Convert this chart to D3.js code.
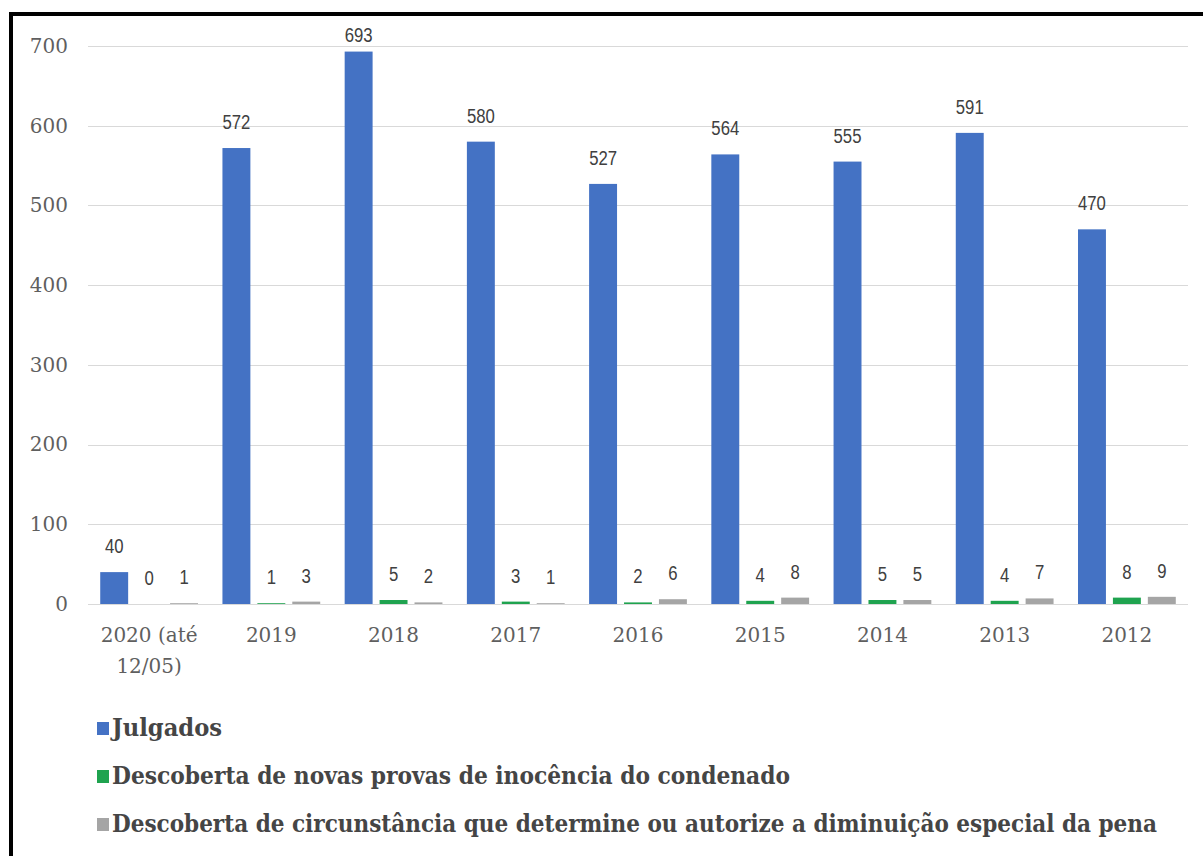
<!DOCTYPE html>
<html>
<head>
<meta charset="utf-8">
<script src="https://cdn.jsdelivr.net/npm/d3@7"></script>
<style>
  html, body { margin: 0; padding: 0; background: #fff; }
  svg { display: block; }
</style>
</head>
<body>
<svg id="chart" width="1203" height="856"></svg>
<script>
// Revisões criminais por ano e fundamento
const categories = ["2020 (até 12/05)", "2019", "2018", "2017", "2016", "2015", "2014", "2013", "2012"];
const categoryLines = [["2020 (até", "12/05)"], ["2019"], ["2018"], ["2017"], ["2016"], ["2015"], ["2014"], ["2013"], ["2012"]];
const seriesNames = [
  "Julgados",
  "Descoberta de novas provas de inocência do condenado",
  "Descoberta de circunstância que determine ou autorize a diminuição especial da pena"
];
const julgados = [40, 572, 693, 580, 527, 564, 555, 591, 470];
const novasProvas = [0, 1, 5, 3, 2, 4, 5, 4, 8];
const circunstancia = [1, 3, 2, 1, 6, 8, 5, 7, 9];
const yTicks = [0, 100, 200, 300, 400, 500, 600, 700];
const colors = ["#4472C4", "#1FA34F", "#A5A5A5"];

const seriesValues = [julgados, novasProvas, circunstancia];

const svg = d3.select("#chart");

// frame (top and left edges)
svg.append("line").attr("x1", 9).attr("x2", 1203).attr("y1", 14).attr("y2", 14)
  .attr("stroke", "#000").attr("stroke-width", 4);
svg.append("line").attr("x1", 11).attr("x2", 11).attr("y1", 12).attr("y2", 856)
  .attr("stroke", "#000").attr("stroke-width", 4);

const plotLeft = 88, plotRight = 1188, plotTop = 46, plotBottom = 604;

const x0 = d3.scaleBand().domain(categories).range([plotLeft, plotRight])
  .paddingInner(0.2).paddingOuter(0.1);
const x1 = d3.scaleBand().domain(d3.range(seriesNames.length)).range([0, x0.bandwidth()])
  .paddingInner(0.2);
const y = d3.scaleLinear().domain([0, 700]).range([plotBottom, plotTop]);

// gridlines
svg.append("g").selectAll("line").data(yTicks).join("line")
  .attr("x1", plotLeft).attr("x2", plotRight)
  .attr("y1", d => Math.round(y(d)) + 0.5).attr("y2", d => Math.round(y(d)) + 0.5)
  .attr("stroke", "#D9D9D9").attr("stroke-width", 1.2);

// y axis labels
const yAxis = d3.axisLeft(y).tickValues(yTicks).tickSize(0).tickPadding(0);
const gy = svg.append("g").attr("transform", "translate(68,0)").call(yAxis);
gy.select(".domain").remove();
gy.selectAll("text")
  .attr("font-family", "'DejaVu Serif', serif")
  .attr("font-size", 20)
  .attr("fill", "#5f5f5f");

// bars
const rows = categories.map((c, i) => ({ cat: c, values: seriesValues.map(s => s[i]) }));
const groups = svg.append("g").selectAll("g").data(rows).join("g")
  .attr("transform", d => `translate(${x0(d.cat)},0)`);

groups.selectAll("rect").data(d => d.values.map((v, k) => ({ v, k }))).join("rect")
  .attr("x", d => x1(d.k))
  .attr("width", x1.bandwidth())
  .attr("y", d => y(d.v))
  .attr("height", d => y(0) - y(d.v))
  .attr("fill", d => colors[d.k]);

// value labels (narrow sans)
groups.selectAll("text").data(d => d.values.map((v, k) => ({ v, k }))).join("text")
  .attr("x", d => x1(d.k) + x1.bandwidth() / 2)
  .attr("y", d => Math.max(y(d.v) - 19, 42))
  .attr("text-anchor", "middle")
  .attr("font-family", "'Liberation Sans', Arial, sans-serif")
  .attr("font-size", 20)
  .attr("fill", "#404040")
  .attr("textLength", d => String(d.v).length * 9.3)
  .attr("lengthAdjust", "spacingAndGlyphs")
  .text(d => d.v);

// x axis labels
const gx = svg.append("g").selectAll("text").data(categories).join("text")
  .attr("x", d => x0(d) + x0.bandwidth() / 2)
  .attr("y", 642)
  .attr("text-anchor", "middle")
  .attr("font-family", "'DejaVu Serif', serif")
  .attr("font-size", 20)
  .attr("fill", "#5f5f5f");
gx.selectAll("tspan").data((d, i) => categoryLines[i]).join("tspan")
  .attr("x", function () { return d3.select(this.parentNode).attr("x"); })
  .attr("dy", (d, j) => j === 0 ? 0 : 31)
  .text(d => d);

// legend
const legendWidths = [110, 678, 1045];
const legend = svg.append("g").selectAll("g").data(seriesNames).join("g")
  .attr("transform", (d, i) => `translate(97,${736 + i * 48})`);
legend.append("rect")
  .attr("x", 0).attr("y", -14).attr("width", 12).attr("height", 13)
  .attr("fill", (d, i) => colors[i]);
legend.append("text")
  .attr("x", 15).attr("y", 0)
  .attr("font-family", "'DejaVu Serif Condensed', 'DejaVu Serif', serif")
  .attr("font-weight", "bold")
  .attr("font-size", 24)
  .attr("fill", "#454545")
  .attr("textLength", (d, i) => legendWidths[i])
  .attr("lengthAdjust", "spacingAndGlyphs")
  .text(d => d);
</script>
</body>
</html>
